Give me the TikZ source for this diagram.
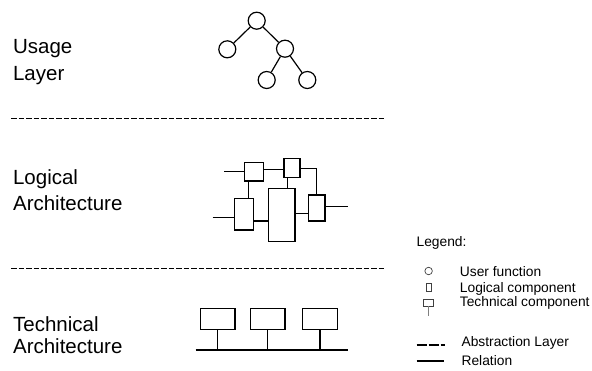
\documentclass[tikz,border=0pt]{standalone}
\usepackage{fontspec}
\setmainfont{Liberation Sans}
\begin{document}
\begin{tikzpicture}[x=1pt,y=-1pt,
  line width=1.2pt,
  layerlabel/.style={anchor=base west,inner sep=0pt,font=\fontsize{20.5}{24}\selectfont},
  legendtext/.style={anchor=base west,inner sep=0pt,font=\fontsize{13.8}{16}\selectfont},
  legendmark/.style={draw=black!75,line width=0.7pt,inner sep=0pt},
  ufun/.style={draw,circle,minimum size=17pt,inner sep=0pt},
  lbox/.style={draw,rectangle,inner sep=0pt},
  tbox/.style={draw,rectangle,inner sep=0pt,minimum width=34.3pt,minimum height=21pt},
  layersep/.style={dash pattern=on 5.5pt off 2pt},
]
\useasboundingbox (0,0) rectangle (592,370);

% layer titles
\node[layerlabel] (usage1) at (12.5,53.3) {Usage};
\node[layerlabel] (usage2) at (12.5,80) {Layer};
\node[layerlabel] (log1) at (12.5,184.3) {Logical};
\node[layerlabel] (log2) at (12.5,210) {Architecture};
\node[layerlabel] (tech1) at (12.5,331.7) {Technical};
\node[layerlabel] (tech2) at (12.5,353.3) {Architecture};

% layer separators
\coordinate (s1a) at (11,118.3);
\coordinate (s1b) at (385,118.3);
\coordinate (s2a) at (11,268.8);
\coordinate (s2b) at (385,268.8);
\draw[layersep] (s1a) -- (s1b);
\draw[layersep] (s2a) -- (s2b);

% usage layer: tree of user functions
\node[ufun] (u1) at (256.7,20.7) {};
\node[ufun] (u2) at (227.3,49.3) {};
\node[ufun] (u3) at (285,48.7) {};
\node[ufun] (u4) at (266.7,80) {};
\node[ufun] (u5) at (307.3,80) {};
\draw (u1) -- (u2);
\draw (u1) -- (u3);
\draw (u3) -- (u4);
\draw (u3) -- (u5);

% logical architecture: components
\node[lbox,minimum width=19pt,minimum height=18.7pt] (A) at (253.8,171.6) {};
\node[lbox,minimum width=16pt,minimum height=19pt] (B) at (292,167.8) {};
\node[lbox,minimum width=19pt,minimum height=31.7pt] (C) at (243.8,214.2) {};
\node[lbox,minimum width=26.7pt,minimum height=53.4pt] (D) at (281.7,215) {};
\node[lbox,minimum width=16.7pt,minimum height=26pt] (E) at (316.7,208) {};
\coordinate (inA) at (224,171.6);
\coordinate (inC) at (212.7,217.7);
\coordinate (outE) at (347.7,206.7);
\coordinate (bend) at (316.7,168.3);
\draw (inA) -- (A.west);
\draw (A.east |- 0,169.3) -- (B.west |- 0,169.3);
\draw (B.east |- bend) -- (bend) -- (E.north);
\draw (248.3,0 |- A.south) -- (248.3,0 |- C.north);
\draw (287.3,0 |- B.south) -- (287.3,0 |- D.north);
\draw (inC) -- (C.west |- inC);
\draw (C.east |- 0,221) -- (D.west |- 0,221);
\draw (D.east |- 0,213.3) -- (E.west |- 0,213.3);
\draw (E.east |- outE) -- (outE);

% technical architecture: components on a bus
\node[tbox] (t1) at (217.8,318.8) {};
\node[tbox] (t2) at (267.8,318.8) {};
\node[tbox] (t3) at (320,318.8) {};
\coordinate (busl) at (195.7,350);
\coordinate (busr) at (348.3,350);
\draw (busl) -- (busr);
\draw (t1.south) -- (t1.south |- busl);
\draw (t2.south) -- (t2.south |- busl);
\draw (t3.south) -- (t3.south |- busl);

% legend
\node[legendtext] (leg) at (416,246.5) {Legend:};
\node[legendmark,circle,minimum size=7.5pt] (lcirc) at (428.6,271) {};
\node[legendtext] (lt1) at (459.3,276.5) {User function};
\node[legendmark,minimum width=5pt,minimum height=8.5pt] (lrect) at (428.6,287.5) {};
\node[legendtext] (lt2) at (459.3,292.5) {Logical component};
\node[legendmark,minimum width=10pt,minimum height=7pt] (ltech) at (428.6,302.5) {};
\coordinate (ltechend) at (428.6,315.5);
\draw[line width=0.7pt,black!50] (ltech.south) -- (ltechend);
\node[legendtext] (lt3) at (459.3,306.5) {Technical component};
\coordinate (lda) at (416.7,345);
\coordinate (ldb) at (445.3,345);
\draw[dash pattern=on 10pt off 2pt] (lda) -- (ldb);
\node[legendtext] (lt4) at (461,346.5) {Abstraction Layer};
\coordinate (lra) at (416.7,361);
\coordinate (lrb) at (444,361);
\draw (lra) -- (lrb);
\node[legendtext] (lt5) at (461,365) {Relation};
\end{tikzpicture}
\end{document}
